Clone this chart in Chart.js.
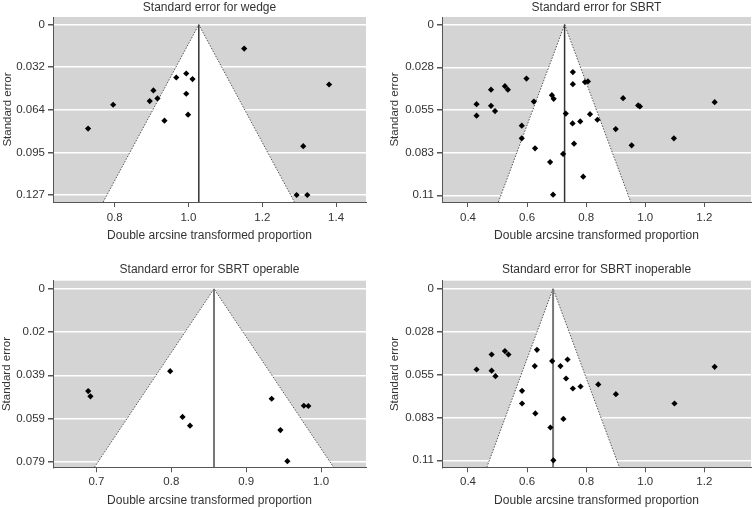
<!DOCTYPE html>
<html lang="en">
<head>
<meta charset="UTF-8">
<title>Funnel plots</title>
<script src="https://cdn.jsdelivr.net/npm/chart.js@4.4.0/dist/chart.umd.min.js"></script>
<style>
  body { margin: 0; background: #fff; width: 755px; height: 508px; overflow: hidden; position: relative; }
  .panel { position: absolute; }
</style>
</head>
<body>
<div class="panel" style="left:0;top:0"><canvas id="c1" width="378" height="254"></canvas></div>
<div class="panel" style="left:378px;top:0"><canvas id="c2" width="377" height="254"></canvas></div>
<div class="panel" style="left:0;top:254px"><canvas id="c3" width="378" height="254"></canvas></div>
<div class="panel" style="left:378px;top:254px"><canvas id="c4" width="377" height="254"></canvas></div>
<script>
// wedge
const wedgeX = [1.151, 1.381, 0.994, 0.967, 1.011, 0.905, 0.916, 0.895, 0.994, 0.796, 0.999, 0.935, 0.728, 1.311, 1.293, 1.322];
const wedgeSE = [0.0178, 0.0446, 0.0364, 0.0394, 0.0406, 0.049, 0.055, 0.057, 0.0515, 0.0597, 0.0671, 0.0716, 0.0775, 0.0906, 0.127, 0.127];
const wedgeMean = 1.028;
const wedgeXTicks = [0.8, 1.0, 1.2, 1.4];
const wedgeYTicks = [0, 0.03175, 0.0635, 0.09525, 0.127];
const wedgeYLabels = ['0', '0.032', '0.064', '0.095', '0.127'];

// SBRT (all)
const sbrtX = [0.598, 0.478, 0.525, 0.535, 0.429, 0.478, 0.4915, 0.429, 0.623, 0.684, 0.690, 0.582, 0.582, 0.627, 0.678, 0.688, 0.722, 0.731, 0.755, 0.755, 0.796, 0.806, 0.754, 0.780, 0.813, 0.838, 0.759, 0.790, 0.925, 0.976, 0.982, 1.235, 0.900, 1.097, 0.954];
const sbrtSE = [0.0348, 0.0419, 0.0397, 0.0419, 0.0513, 0.0523, 0.0557, 0.0587, 0.0496, 0.0455, 0.0478, 0.0651, 0.0733, 0.0797, 0.0886, 0.1096, 0.0833, 0.0573, 0.0306, 0.0384, 0.0370, 0.0366, 0.0637, 0.0624, 0.0577, 0.0613, 0.0767, 0.0980, 0.0474, 0.0521, 0.0527, 0.0500, 0.0673, 0.0733, 0.0778];
const sbrtMean = 0.727;
const sbrtXTicks = [0.4, 0.6, 0.8, 1.0, 1.2];
const sbrtYTicks = [0, 0.0275, 0.055, 0.0825, 0.11];
const sbrtYLabels = ['0', '0.028', '0.055', '0.083', '0.11'];

// SBRT operable
const opX = [0.689, 0.692, 0.7985, 0.815, 0.825, 0.934, 0.977, 0.983, 0.9457, 0.955];
const opSE = [0.0467, 0.0491, 0.0376, 0.0585, 0.0625, 0.0502, 0.0534, 0.0535, 0.0645, 0.0787];
const opMean = 0.857;
const opXTicks = [0.7, 0.8, 0.9, 1.0];
const opYTicks = [0, 0.0197, 0.0395, 0.0592, 0.0789];
const opYLabels = ['0', '0.02', '0.039', '0.059', '0.079'];

// SBRT inoperable
const inopX = [0.6335, 0.525, 0.537, 0.480, 0.737, 0.685, 0.626, 0.713, 0.429, 0.480, 0.493, 1.235, 0.732, 0.841, 0.781, 0.755, 0.583, 0.9006, 0.583, 1.099, 0.628, 0.723, 0.679, 0.689];
const inopSE = [0.0392, 0.040, 0.0422, 0.0422, 0.0454, 0.0464, 0.0496, 0.0496, 0.0518, 0.0526, 0.0561, 0.0501, 0.0576, 0.0614, 0.0627, 0.064, 0.0655, 0.0676, 0.0736, 0.0736, 0.080, 0.0835, 0.089, 0.110];
const inopMean = 0.688;
const inopXTicks = [0.4, 0.6, 0.8, 1.0, 1.2];
const inopYTicks = [0, 0.0275, 0.055, 0.0825, 0.11];
const inopYLabels = ['0', '0.028', '0.055', '0.083', '0.11'];

Chart.defaults.font.family = "'Liberation Sans', Arial, sans-serif";
Chart.defaults.color = '#333';

// grey panel behind the funnel
const grayArea = {
  id: 'grayArea',
  beforeDraw(chart) {
    const { ctx, chartArea: a } = chart;
    ctx.save();
    ctx.fillStyle = '#d4d4d4';
    ctx.fillRect(a.left, a.top, a.right - a.left, a.bottom - a.top);
    ctx.restore();
  }
};

function makeFunnel(id, p) {
  const ctx = document.getElementById(id).getContext('2d');
  const seMax = p.yMax;
  const triangle = [
    { x: p.mean - 1.96 * seMax, y: seMax },
    { x: p.mean, y: 0 },
    { x: p.mean + 1.96 * seMax, y: seMax }
  ];
  const meanLine = [{ x: p.mean, y: 0 }, { x: p.mean, y: seMax }];

  return new Chart(ctx, {
    type: 'line',
    data: {
      datasets: [
        {
          data: p.xs.map((x, i) => ({ x: x, y: p.se[i] })),
          showLine: false,
          pointStyle: 'rectRot',
          pointRadius: 3.1,
          backgroundColor: '#000',
          borderColor: '#000',
          borderWidth: 0,
          order: 1
        },
        {
          data: meanLine,
          borderColor: p.meanColor,
          borderWidth: p.meanWidth,
          pointRadius: 0,
          order: 2
        },
        {
          data: triangle,
          borderColor: '#555',
          borderWidth: 1,
          borderDash: [1.5, 1.5],
          backgroundColor: '#fff',
          fill: { value: seMax },
          pointRadius: 0,
          tension: 0,
          order: 3
        }
      ]
    },
    plugins: [grayArea],
    options: {
      responsive: false,
      animation: false,
      events: [],
      layout: { padding: { left: 0, right: p.padRight, top: 0, bottom: 0 } },
      plugins: {
        legend: { display: false },
        tooltip: { enabled: false },
        title: {
          display: true,
          text: p.title,
          fullSize: false,
          color: '#333',
          font: { size: 12, weight: 'normal', lineHeight: 1 },
          padding: { top: p.titleTop, bottom: p.titleBottom }
        }
      },
      scales: {
        x: {
          type: 'linear',
          min: p.xMin,
          max: p.xMax,
          afterFit: s => { s.height = p.xHeight; },
          afterBuildTicks: s => { s.ticks = p.xTicks.map(v => ({ value: v })); },
          ticks: {
            callback: v => v.toFixed(1),
            font: { size: 11.5 },
            padding: p.xTickPad,
            autoSkip: false,
            maxRotation: 0
          },
          grid: { drawOnChartArea: false, tickLength: 5, color: '#555' },
          border: { color: '#555', width: 1 },
          title: {
            display: true,
            text: 'Double arcsine transformed proportion',
            font: { size: 12, lineHeight: 1 },
            padding: { top: 0, bottom: p.xTitlePad }
          }
        },
        y: {
          type: 'linear',
          reverse: true,
          min: p.yMin,
          max: p.yMax,
          afterFit: s => { s.width = p.yWidth; },
          afterBuildTicks: s => { s.ticks = p.yTicks.map(v => ({ value: v })); },
          ticks: {
            callback: (v, i) => p.yLabels[i],
            font: { size: 11.5 },
            padding: 3
          },
          grid: { color: '#fff', lineWidth: 1.5, tickColor: '#555', tickLength: 5 },
          border: { color: '#555', width: 1 },
          title: {
            display: true,
            text: 'Standard error',
            font: { size: 11.5, lineHeight: 1 },
            padding: { top: p.yTitlePad, bottom: 0 }
          }
        }
      }
    }
  });
}

makeFunnel('c1', {
  title: 'Standard error for wedge',
  xs: wedgeX, se: wedgeSE, mean: wedgeMean,
  xMin: 0.633, xMax: 1.481, yMin: -0.0057, yMax: 0.1322,
  xTicks: wedgeXTicks, yTicks: wedgeYTicks, yLabels: wedgeYLabels,
  meanColor: '#333', meanWidth: 1.5,
  padRight: 12, titleTop: 1.5, titleBottom: 3.5, xHeight: 52, xTickPad: 4, xTitlePad: 12.5,
  yWidth: 53, yTitlePad: 1.75
});

makeFunnel('c2', {
  title: 'Standard error for SBRT',
  xs: sbrtX, se: sbrtSE, mean: sbrtMean,
  xMin: 0.312, xMax: 1.358, yMin: -0.0049, yMax: 0.1143,
  xTicks: sbrtXTicks, yTicks: sbrtYTicks, yLabels: sbrtYLabels,
  meanColor: '#333', meanWidth: 1.5,
  padRight: 0, titleTop: 1.5, titleBottom: 3.5, xHeight: 52, xTickPad: 4, xTitlePad: 12.5,
  yWidth: 64, yTitlePad: 11.5
});

makeFunnel('c3', {
  title: 'Standard error for SBRT operable',
  xs: opX, se: opSE, mean: opMean,
  xMin: 0.642, xMax: 1.06, yMin: -0.0037, yMax: 0.0815,
  xTicks: opXTicks, yTicks: opYTicks, yLabels: opYLabels,
  meanColor: '#777', meanWidth: 2,
  padRight: 12, titleTop: 9.5, titleBottom: 5.2, xHeight: 40.7, xTickPad: 2.5, xTitlePad: 1.3,
  yWidth: 53, yTitlePad: 1
});

makeFunnel('c4', {
  title: 'Standard error for SBRT inoperable',
  xs: inopX, se: inopSE, mean: inopMean,
  xMin: 0.312, xMax: 1.358, yMin: -0.0051, yMax: 0.1145,
  xTicks: inopXTicks, yTicks: inopYTicks, yLabels: inopYLabels,
  meanColor: '#777', meanWidth: 2,
  padRight: 0, titleTop: 9.5, titleBottom: 5.2, xHeight: 40.7, xTickPad: 2.5, xTitlePad: 1.3,
  yWidth: 64, yTitlePad: 11.5
});
</script>
</body>
</html>
